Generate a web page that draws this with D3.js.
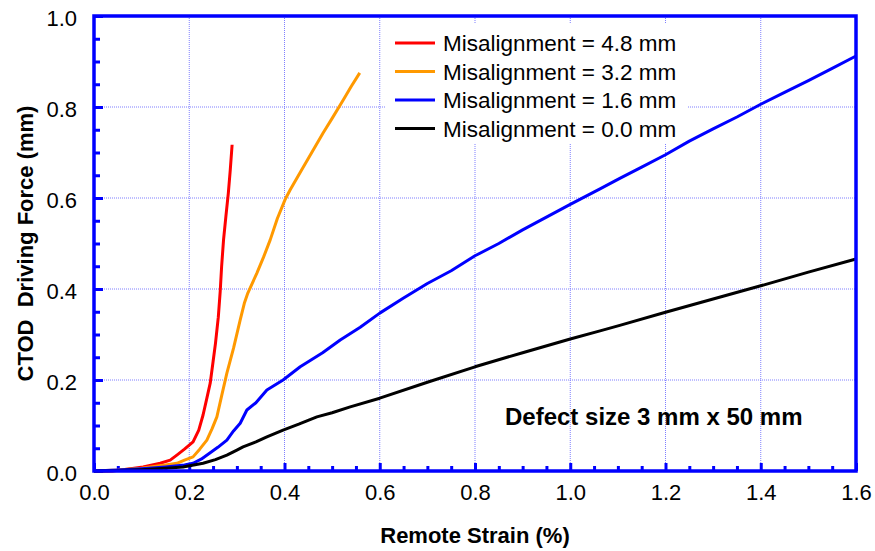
<!DOCTYPE html>
<html>
<head>
<meta charset="utf-8">
<script src="https://cdn.jsdelivr.net/npm/d3@7"></script>
<style>
  html, body { margin: 0; padding: 0; background: #fff; }
  svg { display: block; font-family: Arial, "Liberation Sans", sans-serif; }
</style>
</head>
<body>
<svg id="chart" width="875" height="551"></svg>
<script>
// CTOD driving force vs remote strain for four misalignment levels
const xTicks = [0, 0.2, 0.4, 0.6, 0.8, 1.0, 1.2, 1.4, 1.6];
const yTicks = [0, 0.2, 0.4, 0.6, 0.8, 1.0];
const seriesNames = ["Misalignment = 4.8 mm", "Misalignment = 3.2 mm", "Misalignment = 1.6 mm", "Misalignment = 0.0 mm"];
const seriesColors = ["#ff0000", "#ff9900", "#0000ff", "#000000"];

const mis48 = [[0,0],[0.038,0],[0.069,0.004],[0.103,0.009],[0.139,0.017],[0.16,0.024],[0.174,0.035],[0.19,0.048],[0.208,0.064],[0.22,0.09],[0.229,0.123],[0.237,0.16],[0.244,0.193],[0.25,0.24],[0.255,0.28],[0.261,0.338],[0.265,0.395],[0.268,0.45],[0.272,0.508],[0.277,0.56],[0.282,0.61],[0.286,0.66],[0.29,0.717]];
const mis32 = [[0,0],[0.05,0.002],[0.1,0.006],[0.118,0.009],[0.15,0.013],[0.174,0.017],[0.19,0.024],[0.208,0.031],[0.222,0.048],[0.237,0.068],[0.248,0.093],[0.258,0.119],[0.268,0.165],[0.279,0.215],[0.293,0.27],[0.307,0.332],[0.316,0.37],[0.323,0.391],[0.342,0.435],[0.356,0.47],[0.37,0.508],[0.385,0.555],[0.401,0.596],[0.412,0.618],[0.435,0.66],[0.46,0.705],[0.481,0.743],[0.5,0.775],[0.523,0.815],[0.54,0.845],[0.558,0.875]];
const mis16 = [[0,0],[0.05,0.002],[0.1,0.005],[0.15,0.009],[0.19,0.013],[0.208,0.017],[0.225,0.026],[0.244,0.04],[0.26,0.052],[0.279,0.068],[0.293,0.088],[0.307,0.105],[0.321,0.134],[0.34,0.15],[0.363,0.178],[0.397,0.2],[0.433,0.229],[0.48,0.26],[0.517,0.288],[0.559,0.316],[0.6,0.347],[0.65,0.38],[0.7,0.412],[0.75,0.44],[0.8,0.473],[0.85,0.5],[0.9,0.53],[0.95,0.558],[1.0,0.586],[1.0625,0.62],[1.104,0.643],[1.15,0.668],[1.2,0.695],[1.25,0.725],[1.3,0.752],[1.35,0.778],[1.4,0.806],[1.45,0.832],[1.5,0.858],[1.55,0.885],[1.6,0.912]];
const mis00 = [[0,0],[0.05,0.001],[0.1,0.003],[0.15,0.006],[0.187,0.009],[0.229,0.017],[0.255,0.025],[0.279,0.035],[0.3,0.046],[0.313,0.053],[0.34,0.064],[0.363,0.075],[0.397,0.09],[0.43,0.103],[0.468,0.119],[0.5,0.128],[0.538,0.141],[0.6,0.16],[0.7,0.195],[0.8,0.229],[0.9,0.26],[1.0,0.29],[1.0625,0.308],[1.104,0.32],[1.2,0.349],[1.3,0.378],[1.4,0.407],[1.5,0.437],[1.6,0.466]];

const series = [mis48, mis32, mis16, mis00];

const svg = d3.select("#chart");
const plotLeft = 94, plotRight = 856, plotTop = 16, plotBottom = 471;

const x = d3.scaleLinear().domain([0, 1.6]).range([plotLeft, plotRight]);
const y = d3.scaleLinear().domain([0, 1.0]).range([plotBottom, plotTop]);

const frameColor = "#0000ff";
const gridColor = "#7f7fff";

// dotted grid
const grid = svg.append("g");
grid.selectAll("line.gx").data(xTicks.slice(1, -1)).join("line")
  .attr("x1", d => x(d)).attr("x2", d => x(d))
  .attr("y1", plotTop).attr("y2", plotBottom)
  .attr("stroke", gridColor).attr("stroke-width", 1).attr("stroke-dasharray", "1,1");
grid.selectAll("line.gy").data(yTicks.slice(1, -1)).join("line")
  .attr("x1", plotLeft).attr("x2", plotRight)
  .attr("y1", d => y(d)).attr("y2", d => y(d))
  .attr("stroke", gridColor).attr("stroke-width", 1).attr("stroke-dasharray", "1,1");

// inward tick marks (major and minor) on bottom and left
const xMinor = d3.range(0.05, 1.6, 0.05).filter(v => Math.abs(v / 0.2 - Math.round(v / 0.2)) > 1e-6);
const yMinor = d3.range(0.05, 1.0, 0.05).filter(v => Math.abs(v / 0.2 - Math.round(v / 0.2)) > 1e-6);

const xAxis = d3.axisBottom(x).tickValues(xTicks).tickSize(-8).tickFormat(d3.format(".1f"));
const gx = svg.append("g").attr("transform", `translate(0,${plotBottom})`).call(xAxis);
gx.select(".domain").remove();
gx.selectAll(".tick line").attr("stroke", frameColor).attr("stroke-width", 3);
gx.selectAll(".tick text").attr("y", 29).attr("dy", 0).attr("font-size", 22).attr("fill", "#000")
  .attr("font-family", "Arial, 'Liberation Sans', sans-serif");

const xMinorAxis = d3.axisBottom(x).tickValues(xMinor).tickSize(-5).tickFormat("");
const gxm = svg.append("g").attr("transform", `translate(0,${plotBottom})`).call(xMinorAxis);
gxm.select(".domain").remove();
gxm.selectAll(".tick line").attr("stroke", frameColor).attr("stroke-width", 3);

const yAxis = d3.axisLeft(y).tickValues(yTicks).tickSize(-9).tickFormat(d3.format(".1f"));
const gy = svg.append("g").attr("transform", `translate(${plotLeft},0)`).call(yAxis);
gy.select(".domain").remove();
gy.selectAll(".tick line").attr("stroke", frameColor).attr("stroke-width", 3);
gy.selectAll(".tick text").attr("x", -17).attr("dy", "0.42em").attr("font-size", 22).attr("fill", "#000")
  .attr("font-family", "Arial, 'Liberation Sans', sans-serif");

const yMinorAxis = d3.axisLeft(y).tickValues(yMinor).tickSize(-6).tickFormat("");
const gym = svg.append("g").attr("transform", `translate(${plotLeft},0)`).call(yMinorAxis);
gym.select(".domain").remove();
gym.selectAll(".tick line").attr("stroke", frameColor).attr("stroke-width", 3);

// legend background (hides grid behind it)
svg.append("rect").attr("x", 385).attr("y", 24).attr("width", 303).attr("height", 119).attr("fill", "#fff");

// data curves
const line = d3.line().x(d => x(d[0])).y(d => y(d[1]));
svg.append("g").selectAll("path").data(series).join("path")
  .attr("d", line)
  .attr("fill", "none")
  .attr("stroke", (d, i) => seriesColors[i])
  .attr("stroke-width", 3)
  .attr("stroke-linejoin", "round");

// frame
svg.append("rect").attr("x", plotLeft).attr("y", plotTop)
  .attr("width", plotRight - plotLeft).attr("height", plotBottom - plotTop)
  .attr("fill", "none").attr("stroke", frameColor).attr("stroke-width", 3.5);

// legend
const legend = svg.append("g").attr("transform", "translate(395,43)");
const rows = legend.selectAll("g").data(seriesNames).join("g")
  .attr("transform", (d, i) => `translate(0,${i * 28.5})`);
rows.append("line").attr("x1", 0).attr("x2", 40).attr("y1", 0).attr("y2", 0)
  .attr("stroke", (d, i) => seriesColors[i]).attr("stroke-width", 3);
rows.append("text").attr("x", 48).attr("y", 8).attr("font-size", 22.5).attr("fill", "#000").text(d => d);

// axis titles
svg.append("text").attr("x", (plotLeft + plotRight) / 2).attr("y", 543).attr("text-anchor", "middle")
  .attr("font-size", 22).attr("font-weight", "bold").attr("fill", "#000").text("Remote Strain (%)");
svg.append("text").attr("transform", `translate(33,${(plotTop + plotBottom) / 2}) rotate(-90)`)
  .attr("text-anchor", "middle").attr("font-size", 22).attr("font-weight", "bold").attr("fill", "#000")
  .style("white-space", "pre").text("CTOD  Driving Force (mm)");

// annotation
svg.append("text").attr("x", 505).attr("y", 425).attr("font-size", 24).attr("font-weight", "bold")
  .attr("fill", "#000").text("Defect size 3 mm x 50 mm");
</script>
</body>
</html>
